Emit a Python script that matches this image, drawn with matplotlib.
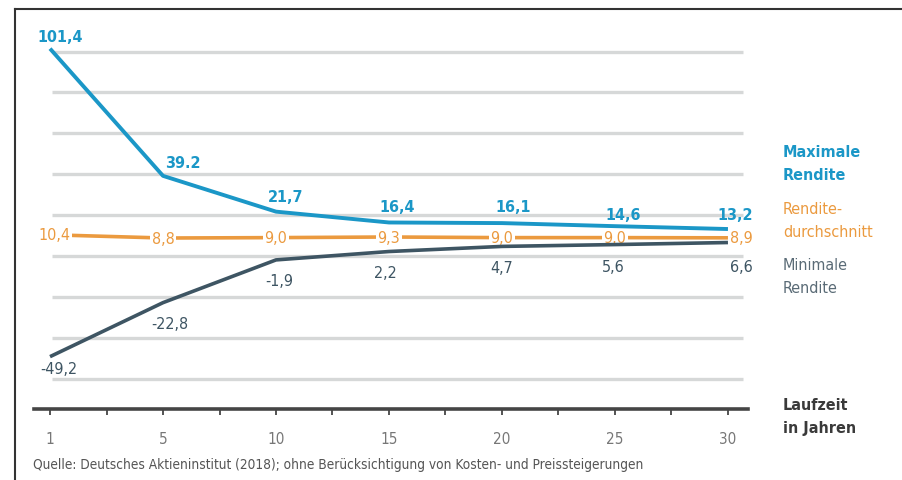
import matplotlib
matplotlib.use("Agg")
import matplotlib.pyplot as plt
from matplotlib.lines import Line2D

plt.rcParams['font.family'] = ['DejaVu Sans']
plt.rcParams['font.stretch'] = 'condensed'

# Data: return ranges by holding period (years)
years = ["1", "5", "10", "15", "20", "25", "30"]
max_return = [101.4, 39.2, 21.7, 16.4, 16.1, 14.6, 13.2]
avg_return = [10.4, 8.8, 9.0, 9.3, 9.0, 9.0, 8.9]
min_return = [-49.2, -22.8, -1.9, 2.2, 4.7, 5.6, 6.6]
max_labels = ["101,4", "39.2", "21,7", "16,4", "16,1", "14,6", "13,2"]
avg_labels = ["10,4", "8,8", "9,0", "9,3", "9,0", "9,0", "8,9"]
min_labels = ["-49,2", "-22,8", "-1,9", "2,2", "4,7", "5,6", "6,6"]
grid_values = [-60, -40, -20, 0, 20, 40, 60, 80, 100]

BLUE = "#1b97c7"
ORANGE = "#eb9a3f"
SLATE = "#3e5563"
GRID = "#d6d8d8"
AXIS = "#454545"

W, H = 903, 481
fig = plt.figure(figsize=(W / 100, H / 100), dpi=100)

# Pixel layout of the plotting area
x0_px, x1_px = 34.2, 748.3
yb_px, yt_px = 410.0, 11.6
ax = fig.add_axes([x0_px / W, 1 - yb_px / H, (x1_px - x0_px) / W, (yb_px - yt_px) / H])
ax.set_xlim(-0.14, 6.18)
ax.set_ylim(-74.8, 120)

xs = list(range(len(years)))
PT = 0.72  # points per pixel at 100 dpi

# Horizontal guide lines
ax.hlines(grid_values, 0.02, 6.13, colors=GRID, linewidth=2.4, zorder=1)

# Series lines
ax.plot(xs, avg_return, color=ORANGE, lw=2.6, zorder=3, solid_capstyle='butt')
ax.plot(xs, min_return, color=SLATE, lw=2.6, zorder=4.5, solid_capstyle='butt')
ax.plot(xs, max_return, color=BLUE, lw=2.8, zorder=5, solid_capstyle='butt')

# Value labels (offsets in pixels)
max_off = [(10, 12), (20, 13), (10, 15), (8, 16), (11, 17), (8, 12), (7, 15)]
min_off = [(9, -12), (7, -21), (3, -21), (-4, -21), (0, -21), (-2, -22), (13, -24)]
avg_off = [(4, 0), (0, 0), (0, 0), (0, 0), (0, 0), (0, 0), (13, 0)]

for x, y, t, (dx, dy) in zip(xs, max_return, max_labels, max_off):
    ax.annotate(t, (x, y), xytext=(dx * PT, dy * PT), textcoords='offset points',
                ha='center', va='center', color=BLUE, fontsize=11.5,
                fontweight='bold', zorder=6, annotation_clip=False)

for x, y, t, (dx, dy) in zip(xs, avg_return, avg_labels, avg_off):
    ax.annotate(t, (x, y), xytext=(dx * PT, dy * PT), textcoords='offset points',
                ha='center', va='center', color=ORANGE, fontsize=11.5, zorder=4,
                bbox=dict(boxstyle='square,pad=0.1', fc='white', ec='none'))

for x, y, t, (dx, dy) in zip(xs, min_return, min_labels, min_off):
    ax.annotate(t, (x, y), xytext=(dx * PT, dy * PT), textcoords='offset points',
                ha='center', va='center', color=SLATE, fontsize=11.5, zorder=6)

# Axis styling
for side in ('top', 'left', 'right'):
    ax.spines[side].set_visible(False)
ax.spines['bottom'].set_color(AXIS)
ax.spines['bottom'].set_linewidth(2.6)
ax.set_yticks([])
ax.set_xticks(xs)
ax.set_xticklabels(years)
ax.set_xticks([x + 0.5 for x in xs[:-1]], minor=True)
ax.tick_params(axis='x', which='both', direction='out', length=4.5, width=1.3,
               color=AXIS, labelcolor="#777777", labelsize=11, pad=11)

# Series names on the right
def side_text(y_px, text, color, weight='normal'):
    fig.text(783 / W, 1 - y_px / H, text, color=color, fontsize=11.5,
             fontweight=weight, ha='left', va='top', linespacing=1.7)

side_text(145, "Maximale\nRendite", BLUE, 'bold')
side_text(202, "Rendite-\ndurchschnitt", ORANGE)
side_text(258, "Minimale\nRendite", "#5a6b76")
side_text(398, "Laufzeit\nin Jahren", "#3a3a3a", 'bold')

# Source line
fig.text(33 / W, 1 - 465 / H,
         "Quelle: Deutsches Aktieninstitut (2018); ohne Berücksichtigung von Kosten- und Preissteigerungen",
         fontsize=9.8, color="#555555", ha='left', va='center')

# Frame lines along the top and left edges
fig.add_artist(Line2D([15 / W, 1], [1 - 10 / H, 1 - 10 / H], transform=fig.transFigure,
                      color="#333333", lw=1.5))
fig.add_artist(Line2D([15 / W, 15 / W], [0, 1 - 10 / H], transform=fig.transFigure,
                      color="#333333", lw=1.5))

fig.savefig("out.png", dpi=100, facecolor='white')
